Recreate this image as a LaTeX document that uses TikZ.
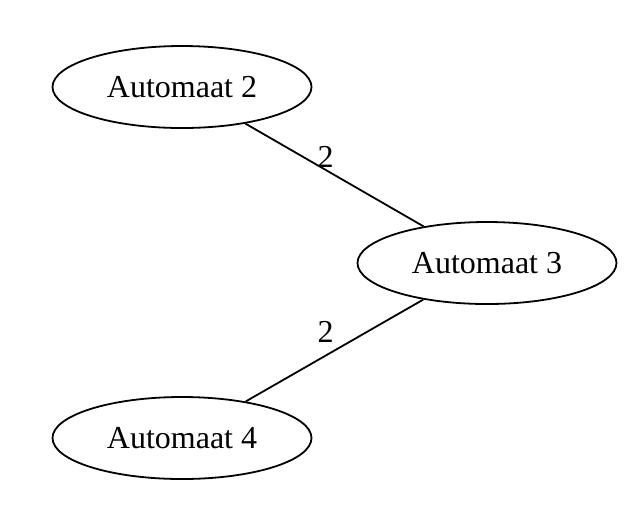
\documentclass[tikz,border=0pt]{standalone}
\usepackage{fontspec}
\setmainfont{Liberation Serif}
\usetikzlibrary{shapes.geometric}

\begin{document}
\begin{tikzpicture}[x=0.5pt,y=-0.5pt,line width=0.9pt,font=\fontsize{16}{19}\selectfont,main/.style = {shape=ellipse,draw,minimum width=129.5pt,minimum height=41pt,inner sep=0pt}]
            \useasboundingbox (0,0) rectangle (637,511);
			\node (a2) [main] at (182,87) {Automaat 2};
			\node (a3) [main] at (487,263) {Automaat 3};
            \node (a4) [main] at (182,438) {Automaat 4};

            \path (a2) edge node[above,xshift=-4.5pt] {2} (a3);
            \path (a4) edge node[above,xshift=-4.5pt] {2} (a3);
		\end{tikzpicture}
\end{document}
